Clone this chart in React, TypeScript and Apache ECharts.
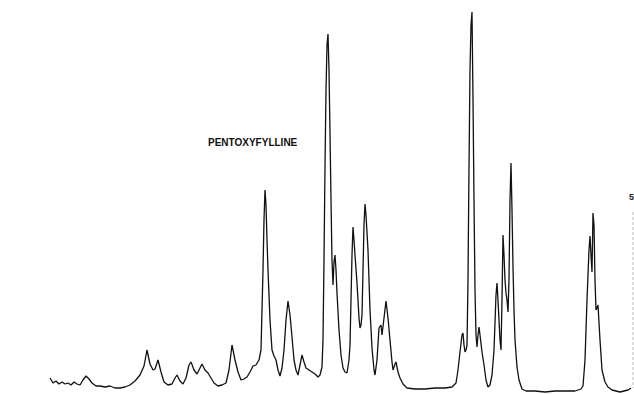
import React, { useEffect, useRef } from "react";
import * as echarts from "echarts";

// Retention position (px-scale units) and detector response
const retention = [
  50, 53, 56, 59, 62, 65, 68, 71, 74, 77, 80, 83, 86, 89, 92, 96, 100, 105, 110, 115, 120, 125, 130, 135, 140, 144,
  147, 150, 153, 155, 158, 161, 164, 168, 172, 175, 177, 180, 183, 186, 189, 191, 194, 197, 200, 202, 205, 208, 211,
  214, 218, 222, 226, 229, 232, 235, 238, 241, 244, 247, 250, 253, 256, 259, 261, 262, 263, 264, 265, 266, 267, 268,
  270, 272, 274, 276, 278, 280, 282, 284, 286, 288, 290, 292, 294, 296, 298, 300, 302, 304, 306, 309, 312, 315, 318,
  320, 322, 323, 324, 325, 326, 327, 328, 329, 330, 331, 332, 333, 334, 335, 336, 337, 339, 341, 343, 345, 347, 349,
  350, 351, 352, 353, 354, 355, 357, 359, 360, 361, 362, 363, 364, 365, 366, 368, 370, 372, 374, 375, 377, 379, 381,
  382, 384, 386, 388, 390, 392, 393, 395, 396, 398, 400, 403, 407, 415, 425, 435, 445, 452, 456, 458, 460, 462, 463,
  464, 465, 466, 467, 468, 469, 470, 471, 472, 473, 474, 475, 476, 477, 478, 479, 480, 482, 484, 486, 488, 490, 492,
  494, 496, 497, 498, 500, 501, 502, 503, 504, 505, 506, 507, 508, 509, 510, 511, 512, 513, 514, 515, 517, 519, 522,
  526, 535, 545, 555, 565, 575, 581, 583, 585, 587, 589, 590, 591, 592, 593, 594, 595, 596, 597, 598, 600, 602, 605,
  608, 612, 620, 628, 631,
];

const response = [
  16, 11, 13, 10, 12, 10, 11, 9, 12, 10, 9, 14, 18, 15, 11, 8, 8, 7, 8, 6, 6, 7, 9, 13, 19, 28,
  44, 30, 24, 25, 34, 22, 12, 9, 10, 16, 19, 13, 10, 16, 29, 32, 24, 20, 26, 30, 24, 21, 16,
  11, 8, 9, 11, 24, 49, 34, 22, 14, 15, 17, 22, 28, 29, 34, 44, 84, 124, 174, 204, 189, 154, 124,
  74, 44, 38, 34, 24, 18, 26, 44, 74, 93, 79, 57, 34, 24, 19, 29, 39, 32, 26, 24, 22, 20, 17,
  19, 27, 54, 134, 227, 304, 349, 360, 324, 261, 194, 134, 109, 132, 139, 124, 101, 64, 39, 26, 22, 21, 34,
  49, 94, 139, 167, 154, 139, 111, 76, 66, 69, 79, 124, 169, 190, 179, 144, 84, 46, 24, 19, 34, 66, 69,
  59, 76, 93, 76, 54, 32, 24, 30, 32, 22, 16, 10, 6, 5, 5, 6, 6, 7, 11, 24, 42, 59, 61,
  49, 42, 44, 49, 114, 227, 324, 369, 382, 294, 194, 104, 59, 47, 59, 67, 59, 42, 29, 14, 7, 9, 19,
  44, 99, 111, 94, 54, 44, 94, 159, 139, 114, 101, 94, 82, 114, 194, 231, 184, 127, 84, 54, 27, 14, 5,
  3, 3, 2, 3, 3, 3, 5, 8, 34, 94, 144, 158, 139, 122, 181, 169, 114, 84, 86, 89, 54, 24, 12,
  7, 4, 2, 4, 6,
];

export default function App() {
  const ref = useRef<HTMLDivElement>(null);
  useEffect(() => {
    if (!ref.current) return;
    const chart = echarts.init(ref.current, null, { renderer: "svg" });
    const data = retention.map((x, i) => [x, response[i]]);
    chart.setOption({
      animation: false,
      backgroundColor: "#ffffff",
      grid: { left: 0, right: 0, top: 0, bottom: 0 },
      xAxis: { type: "value", min: 0, max: 634, show: false },
      yAxis: { type: "value", min: 0, max: 394, show: false },
      series: [
        {
          type: "line",
          data,
          showSymbol: false,
          smooth: false,
          lineStyle: { color: "#111111", width: 1.3 },
          silent: true,
        },
      ],
      graphic: [
        {
          type: "text",
          left: 208,
          top: 137,
          style: {
            text: "PENTOXYFYLLINE",
            fontFamily: "Liberation Sans, Arial, sans-serif",
            fontWeight: "bold",
            fontSize: 10,
            fill: "#111111",
          },
        },
        {
          type: "text",
          x: 629,
          y: 192,
          style: {
            text: "5",
            fontFamily: "Liberation Sans, Arial, sans-serif",
            fontWeight: "bold",
            fontSize: 9,
            fill: "#222222",
          },
        },
        {
          type: "line",
          shape: { x1: 633, y1: 212, x2: 633, y2: 388 },
          style: { stroke: "#bbbbbb", lineWidth: 1, lineDash: [3, 2] },
        },
      ],
    });
    return () => chart.dispose();
  }, []);
  return (
    <div
      ref={ref}
      style={{ position: "fixed", left: 0, top: 0, width: 634, height: 394, background: "#fff" }}
    />
  );
}
